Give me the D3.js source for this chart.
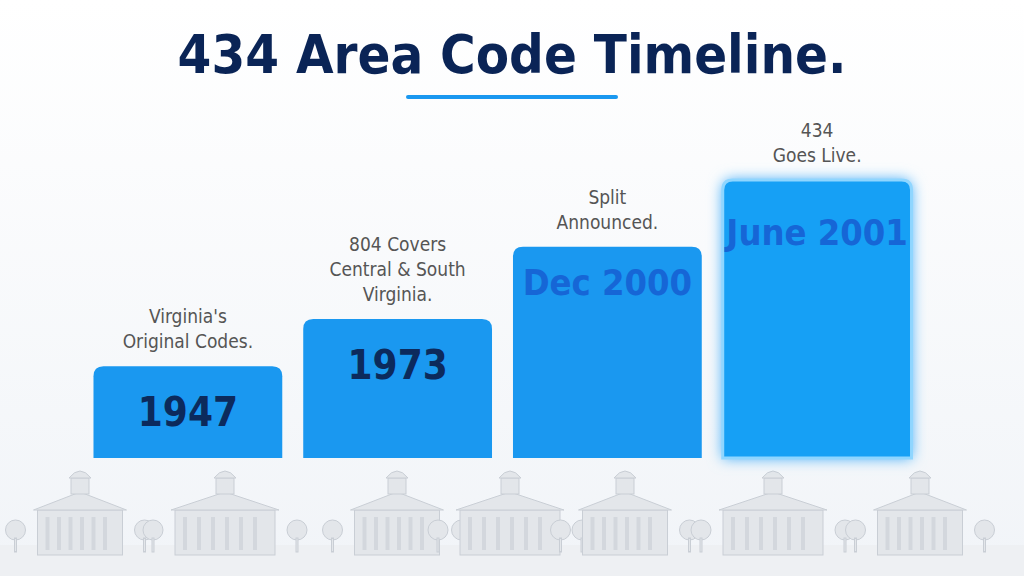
<!DOCTYPE html><html><head><meta charset="utf-8">
<script src="https://cdn.jsdelivr.net/npm/d3@7"></script>
<style>body{margin:0;background:#fff}svg{display:block}</style></head><body>
<svg id="c" width="1024" height="576"></svg>
<script>
const categories=["1947","1973","Dec 2000","June 2001"];
const values=[33,50,76,100];
const labels=[["Virginia's","Original Codes."],["804 Covers","Central & South","Virginia."],["Split","Announced."],["434","Goes Live."]];
const textColors=["#0c2a5c","#0c2a5c","#1666d6","#1666d6"];
const svg=d3.select("#c");
const F="'DejaVu Sans Condensed','Roboto Condensed',sans-serif";
const defs=svg.append("defs");
const bg=defs.append("linearGradient").attr("id","bg").attr("x1",0).attr("y1",0).attr("x2",0).attr("y2",1);
bg.append("stop").attr("offset",0).attr("stop-color","#ffffff");
bg.append("stop").attr("offset",1).attr("stop-color","#f1f4f8");
svg.append("rect").attr("width",1024).attr("height",576).attr("fill","url(#bg)");
const gl=defs.append("filter").attr("id","glow").attr("x","-20%").attr("y","-20%").attr("width","140%").attr("height","140%");
gl.append("feGaussianBlur").attr("stdDeviation",7).attr("result","b");
const m=gl.append("feMerge");m.append("feMergeNode").attr("in","b");m.append("feMergeNode").attr("in","SourceGraphic");
svg.append("text").attr("x",512).attr("y",73).attr("text-anchor","middle").attr("font-family",F).attr("font-weight","bold").attr("font-size",54).attr("fill","#0a2456").text("434 Area Code Timeline.");
svg.append("rect").attr("x",406).attr("y",95).attr("width",212).attr("height",4).attr("rx",2).attr("fill","#1a98f0");
// skyline decoration
const sk=svg.append("g").attr("fill","#e3e6ea").attr("stroke","#c9ced5").attr("stroke-width",1);
sk.append("rect").attr("x",0).attr("y",545).attr("width",1024).attr("height",31).attr("fill","#eef0f3").attr("stroke","none");
const bx=[80,225,397,510,625,773,920];
bx.forEach((x,i)=>{const w=i%2?100:85;
 sk.append("rect").attr("x",x-w/2).attr("y",510).attr("width",w).attr("height",45);
 sk.append("path").attr("d",`M${x-w/2-4},510 L${x},492 L${x+w/2+4},510 Z`);
 sk.append("rect").attr("x",x-9).attr("y",478).attr("width",18).attr("height",16);
 sk.append("path").attr("d",`M${x-11},478 Q${x},464 ${x+11},478 Z`);
 for(let k=0;k<6;k++)sk.append("rect").attr("x",x-w/2+8+k*(w-16)/6).attr("y",517).attr("width",4).attr("height",33).attr("fill","#d3d7dd").attr("stroke","none");
 [x-w/2-22,x+w/2+22].forEach(t=>{sk.append("circle").attr("cx",t).attr("cy",530).attr("r",10);sk.append("rect").attr("x",t-1).attr("y",538).attr("width",2).attr("height",14);});
});
const x=d3.scaleBand().domain(categories).range([83,922]).paddingInner(0.1).paddingOuter(0.05);
const y=d3.scaleLinear().domain([0,100]).range([458,180]);
const g=svg.append("g");
categories.forEach((c,i)=>{
 const x0=x(c),w=x.bandwidth(),top=y(values[i]),last=i===3;
 g.append("path").attr("d",`M${x0},458 V${top+10} Q${x0},${top} ${x0+10},${top} H${x0+w-10} Q${x0+w},${top} ${x0+w},${top+10} V458 Z`)
  .attr("fill",last?"#17a0f5":"#1a98f0").attr("stroke",last?"#8fd6ff":"none").attr("stroke-width",last?3:0).attr("filter",last?"url(#glow)":null);
 const big=i<2;
 g.append("text").attr("x",x0+w/2).attr("y",big?top+60:top+60-(i===3?-5:12)).attr("text-anchor","middle").attr("font-family",F).attr("font-weight","bold").attr("font-size",big?40:36).attr("fill",textColors[i]).text(c);
 const L=labels[i];
 L.forEach((t,j)=>g.append("text").attr("x",x0+w/2).attr("y",top-18-(L.length-1-j)*25).attr("text-anchor","middle").attr("font-family",F).attr("font-size",19).attr("fill","#555").text(t));
});
</script></body></html>
